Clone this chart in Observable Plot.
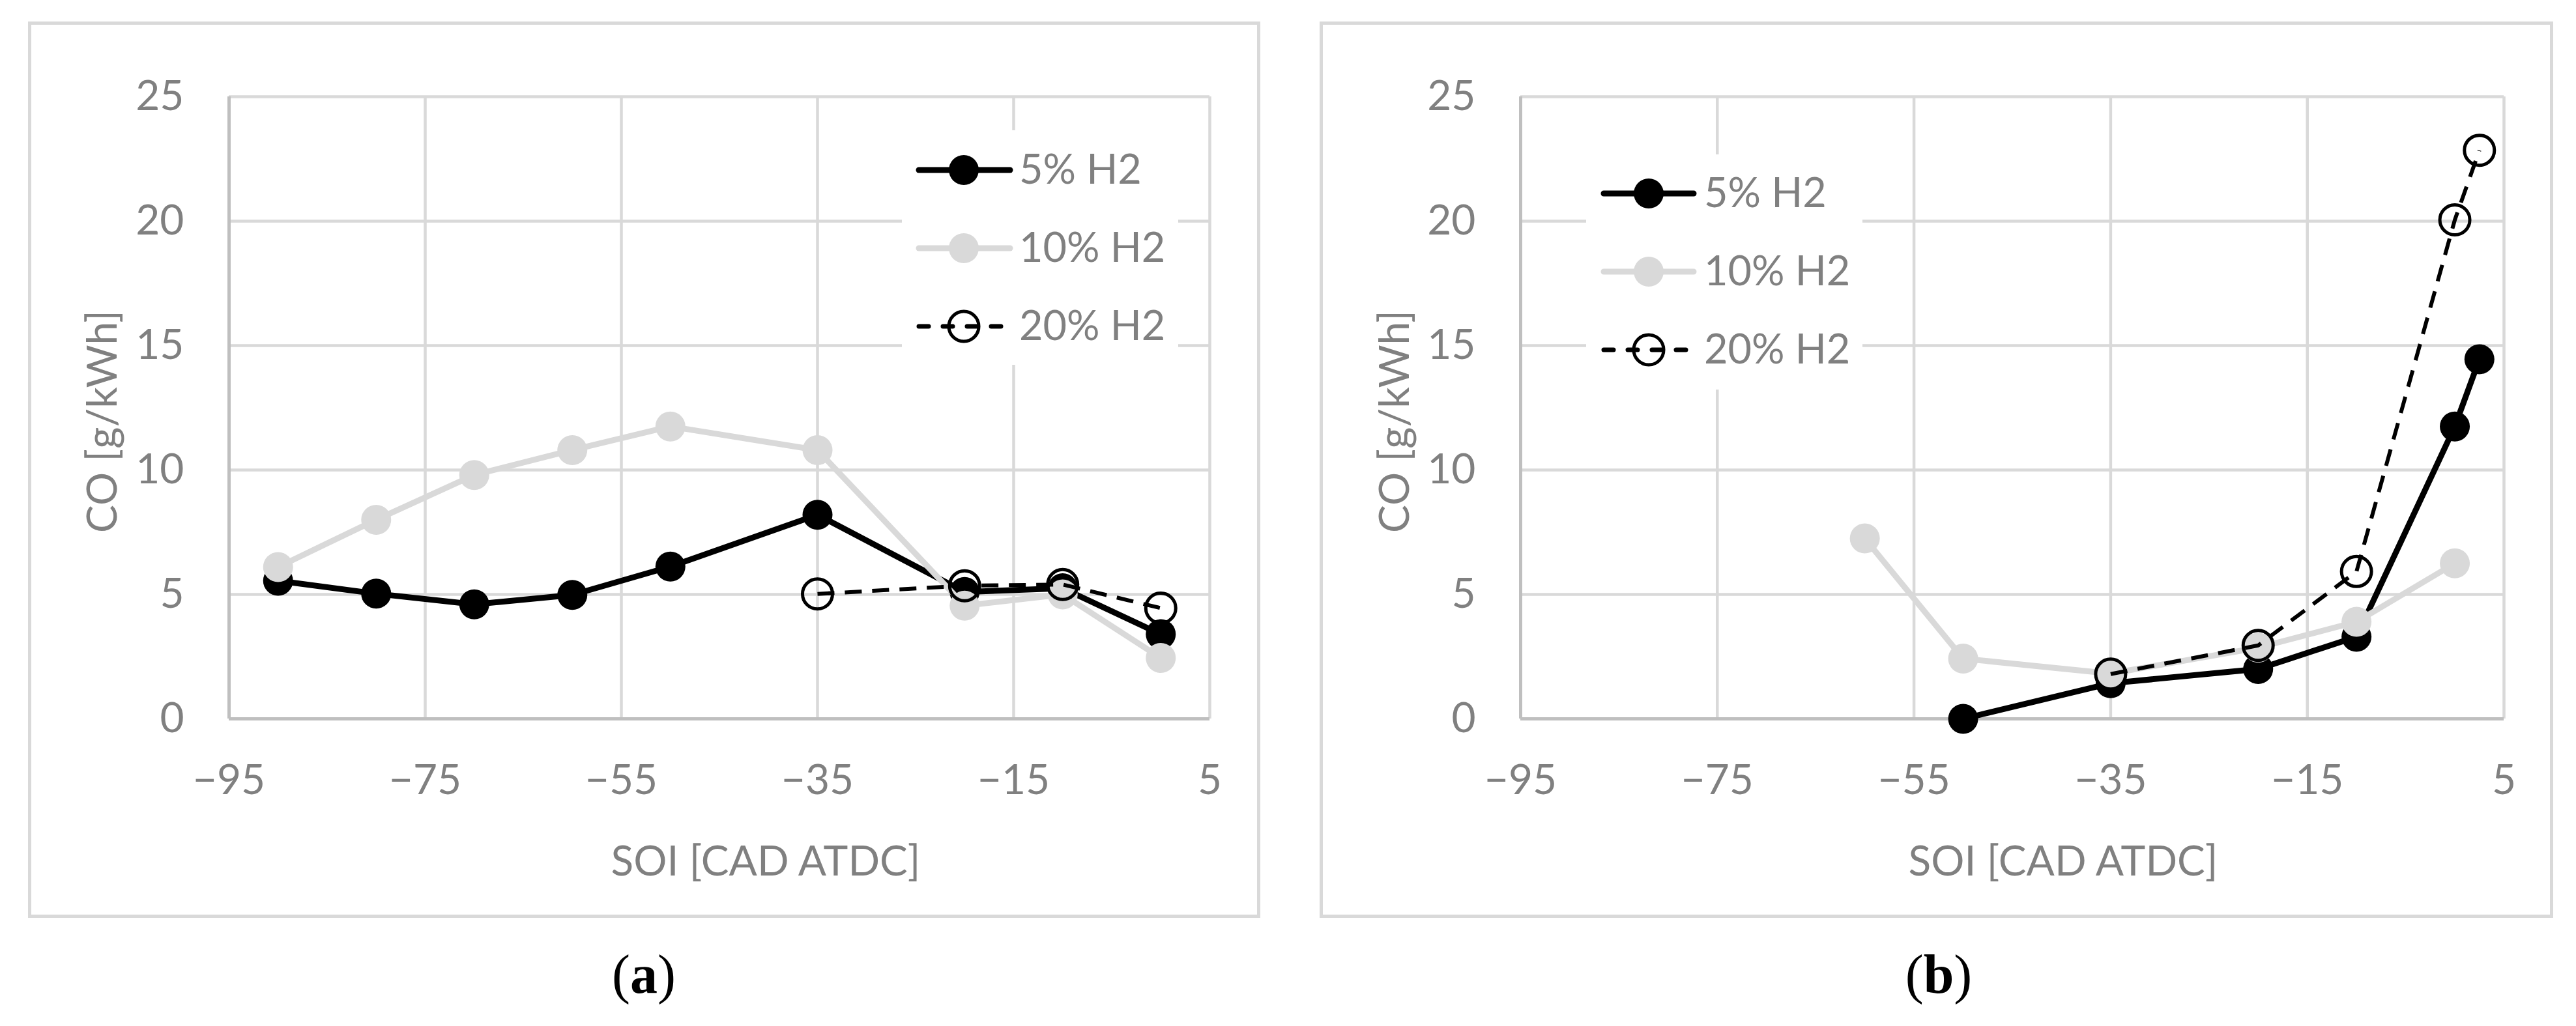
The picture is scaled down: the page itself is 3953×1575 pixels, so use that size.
<!DOCTYPE html>
<html>
<head>
<meta charset="utf-8">
<script src="https://cdn.jsdelivr.net/npm/d3@7"></script>
<script src="https://cdn.jsdelivr.net/npm/@observablehq/plot@0.6"></script>
<style>
  html, body { margin: 0; padding: 0; background: #fff; }
  #page { position: relative; width: 3953px; height: 1575px; background: #fff; overflow: hidden; font-family: Lato, "Open Sans", sans-serif; }
  .frame { position: absolute; box-sizing: border-box; border: 5px solid #d9d9d9; }
  .plot { position: absolute; }
  .ytitle { position: absolute; transform: translate(-50%, -50%) rotate(-90deg); white-space: nowrap; font-size: 64px; line-height: 1; color: #808080; }
  .xtitle { position: absolute; transform: translateX(-50%); white-space: nowrap; font-size: 64px; line-height: 1; color: #808080; }
  .caption { position: absolute; transform: translateX(-50%); white-space: nowrap; font-family: "Liberation Serif", "Times New Roman", serif; font-size: 84px; line-height: 1; color: #000; }
  .legend { position: absolute; }
</style>
</head>
<body>
<div id="page"></div>
<script>
// ---------- data ----------
const seriesNames = ["5% H2", "10% H2", "20% H2"];
const xTicks = [-95, -75, -55, -35, -15, 5];
const yTicks = [0, 5, 10, 15, 20, 25];
const xTitle = "SOI [CAD ATDC]";
const yTitle = "CO [g/kWh]";

// panel (a)
const soiA5 = [-90, -80, -70, -60, -50, -35, -20, -10, 0];
const coA5 = [5.55, 5.03, 4.6, 4.98, 6.12, 8.2, 5.1, 5.25, 3.4];
const soiA10 = [-90, -80, -70, -60, -50, -35, -20, -10, 0];
const coA10 = [6.1, 8.0, 9.8, 10.8, 11.75, 10.8, 4.55, 5.0, 2.45];
const soiA20 = [-35, -20, -10, 0];
const coA20 = [5.02, 5.35, 5.4, 4.45];

// panel (b)
const soiB5 = [-50, -35, -20, -10, 0, 2.5];
const coB5 = [0.0, 1.43, 2.0, 3.3, 11.75, 14.45];
const soiB10 = [-60, -50, -35, -20, -10, 0];
const coB10 = [7.25, 2.42, 1.82, 2.86, 3.9, 6.25];
const soiB20 = [-35, -20, -10, 0, 2.5];
const coB20 = [1.8, 2.95, 5.92, 20.05, 22.85];

// ---------- styles ----------
const styles = [
  {stroke: "#000000", strokeWidth: 9, fill: "#000000", dash: null, markerStroke: "none", markerWidth: 0},
  {stroke: "#d9d9d9", strokeWidth: 9, fill: "#d9d9d9", dash: null, markerStroke: "none", markerWidth: 0},
  {stroke: "#000000", strokeWidth: 6, fill: "none", dash: "26,16", markerStroke: "#000000", markerWidth: 5}
];
const R = 23;
const zipSeries = (xs, ys) => xs.map((x, i) => ({soi: x, co: ys[i]}));

const page = document.getElementById("page");

function panel(cfg) {
  // frame
  const fr = document.createElement("div");
  fr.className = "frame";
  Object.assign(fr.style, {left: cfg.frame[0] + "px", top: cfg.frame[1] + "px", width: cfg.frame[2] + "px", height: cfg.frame[3] + "px"});
  page.appendChild(fr);

  const marks = [
    Plot.gridX({ticks: xTicks, stroke: "#d9d9d9", strokeWidth: 4.5, strokeOpacity: 1}),
    Plot.gridY({ticks: yTicks, stroke: "#d9d9d9", strokeWidth: 4.5, strokeOpacity: 1}),
    Plot.ruleX([xTicks[0]], {stroke: "#bfbfbf", strokeWidth: 5}),
    Plot.ruleY([yTicks[0]], {stroke: "#bfbfbf", strokeWidth: 5}),
    Plot.axisX({ticks: xTicks, tickSize: 0, tickPadding: 70, label: null, fill: "#808080", fontSize: 64}),
    Plot.axisY({ticks: yTicks, tickSize: 0, tickPadding: 69, label: null, fill: "#808080", fontSize: 64})
  ];
  cfg.series.forEach((data, i) => {
    const s = styles[i];
    marks.push(Plot.line(data, {x: "soi", y: "co", stroke: s.stroke, strokeWidth: s.strokeWidth,
      strokeDasharray: s.dash, strokeLinejoin: "round", strokeLinecap: s.dash ? "butt" : "round"}));
    marks.push(Plot.dot(data, {x: "soi", y: "co", r: R, fill: s.fill, stroke: s.markerStroke, strokeWidth: s.markerWidth}));
  });

  const chart = Plot.plot({
    width: cfg.w, height: cfg.h,
    marginLeft: cfg.m[0], marginRight: cfg.m[1], marginTop: cfg.m[2], marginBottom: cfg.m[3],
    style: {fontFamily: "Lato", fontSize: "64px", background: "transparent", overflow: "visible", color: "#808080"},
    x: {domain: [xTicks[0], xTicks[xTicks.length - 1]]},
    y: {domain: [yTicks[0], yTicks[yTicks.length - 1]]},
    marks
  });
  chart.classList.add("plot");
  chart.style.position = "absolute";
  chart.style.left = cfg.left + "px";
  chart.style.top = cfg.top + "px";
  page.appendChild(chart);

  // legend
  const L = cfg.legend;
  const lg = d3.select(page).append("svg").attr("class", "legend")
    .attr("width", L.box[2]).attr("height", L.box[3])
    .style("left", L.box[0] + "px").style("top", L.box[1] + "px")
    .style("overflow", "visible");
  lg.append("rect").attr("width", L.box[2]).attr("height", L.box[3]).attr("fill", "#fff");
  seriesNames.forEach((name, i) => {
    const s = styles[i];
    const y = L.rows[i] - L.box[1];
    const x0 = L.line[0] - L.box[0], x1 = L.line[1] - L.box[0], xm = L.marker - L.box[0];
    lg.append("line").attr("x1", x0).attr("x2", x1).attr("y1", y).attr("y2", y)
      .attr("stroke", s.stroke).attr("stroke-width", s.dash ? 7 : s.strokeWidth)
      .attr("stroke-linecap", "round")
      .attr("stroke-dasharray", s.dash ? "15,22" : null);
    lg.append("circle").attr("cx", xm).attr("cy", y).attr("r", R)
      .attr("fill", s.fill).attr("stroke", s.markerStroke).attr("stroke-width", s.markerWidth);
    lg.append("text").attr("x", L.text - L.box[0]).attr("y", y + 21)
      .attr("fill", "#808080").attr("font-family", "Lato").attr("font-size", 63).text(name);
  });

  // titles
  const yt = document.createElement("div");
  yt.className = "ytitle"; yt.textContent = yTitle;
  yt.style.left = cfg.yTitle[0] + "px"; yt.style.top = cfg.yTitle[1] + "px";
  page.appendChild(yt);
  const xt = document.createElement("div");
  xt.className = "xtitle"; xt.textContent = xTitle;
  xt.style.left = cfg.xTitle[0] + "px"; xt.style.top = cfg.xTitle[1] + "px";
  page.appendChild(xt);
  const cp = document.createElement("div");
  cp.className = "caption"; cp.innerHTML = "(<b>" + cfg.caption + "</b>)";
  cp.style.left = cfg.captionX + "px"; cp.style.top = "1454px";
  page.appendChild(cp);
}

panel({
  frame: [42.5, 32.5, 1891, 1376],
  left: 45, top: 35, w: 1886, h: 1371, m: [306, 75, 113, 303],
  series: [zipSeries(soiA5, coA5), zipSeries(soiA10, coA10), zipSeries(soiA20, coA20)],
  legend: {box: [1384, 200, 424, 360], rows: [261, 381, 501], line: [1410, 1550], marker: 1479, text: 1564},
  yTitle: [155, 647], xTitle: [1175, 1288], caption: "a", captionX: 988
});
panel({
  frame: [2024.5, 32.5, 1893, 1376],
  left: 2027, top: 35, w: 1888, h: 1371, m: [306, 73, 113, 303],
  series: [zipSeries(soiB5, coB5), zipSeries(soiB10, coB10), zipSeries(soiB20, coB20)],
  legend: {box: [2434, 237, 424, 361], rows: [297, 417, 537], line: [2461, 2599], marker: 2530, text: 2615},
  yTitle: [2138, 647], xTitle: [3166, 1288], caption: "b", captionX: 2975
});
</script>
</body>
</html>
